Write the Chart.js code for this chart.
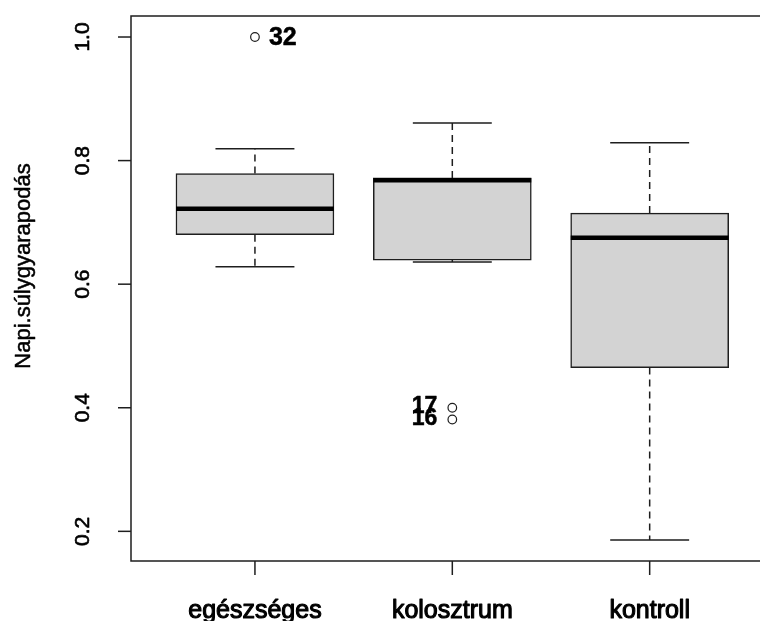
<!DOCTYPE html>
<html>
<head>
<meta charset="utf-8">
<script src="https://cdn.jsdelivr.net/npm/chart.js@4"></script>
<style>
  html, body { margin: 0; padding: 0; background: #fff; overflow: hidden; }
  canvas { display: block; }
</style>
</head>
<body>
<canvas id="c" width="760" height="621"></canvas>
<script>
// ---- data ----
const categories = ['egészséges', 'kolosztrum', 'kontroll'];
const whiskerLow  = [0.628, 0.636, 0.186];
const q1          = [0.680, 0.639, 0.465];
const median      = [0.722, 0.768, 0.675];
const q3          = [0.779, 0.772, 0.715];
const whiskerHigh = [0.819, 0.861, 0.829];
const outlierGroup  = [1, 2, 2];
const outlierValue  = [1.000, 0.400, 0.381];
const outlierLabel  = ['32', '17', '16'];
const yTicks = [0.2, 0.4, 0.6, 0.8, 1.0];
const yTitle = 'Napi.súlygyarapodás';

const FONT = "'Liberation Sans', Arial, Helvetica, sans-serif";
const INK = '#1e1e1e';

function heavyText(ctx, txt, x, y, w) {
  ctx.fillText(txt, x, y);
  ctx.save();
  ctx.lineWidth = w;
  ctx.lineJoin = 'round';
  ctx.strokeStyle = ctx.fillStyle;
  ctx.strokeText(txt, x, y);
  ctx.restore();
}

const boxPlugin = {
  id: 'boxplotR',
  afterDatasetsDraw(chart) {
    const ctx = chart.ctx;
    const xs = chart.scales.x, ys = chart.scales.y;
    const unit = xs.getPixelForValue(2) - xs.getPixelForValue(1);
    const capHalf = unit * 0.2;
    ctx.save();
    categories.forEach((c, i) => {
      const cx = xs.getPixelForValue(i + 1);
      const yHi = ys.getPixelForValue(whiskerHigh[i]);
      const yQ3 = ys.getPixelForValue(q3[i]);
      const yQ1 = ys.getPixelForValue(q1[i]);
      const yLo = ys.getPixelForValue(whiskerLow[i]);
      const yMed = ys.getPixelForValue(median[i]);
      // dashed whiskers
      ctx.strokeStyle = INK;
      ctx.lineWidth = 1.5;
      ctx.setLineDash([7, 5]);
      ctx.beginPath();
      ctx.moveTo(cx, yQ3); ctx.lineTo(cx, yHi);
      ctx.moveTo(cx, yQ1); ctx.lineTo(cx, yLo);
      ctx.stroke();
      ctx.setLineDash([]);
      // caps
      ctx.beginPath();
      ctx.moveTo(cx - capHalf, yHi); ctx.lineTo(cx + capHalf, yHi);
      ctx.moveTo(cx - capHalf, yLo); ctx.lineTo(cx + capHalf, yLo);
      ctx.stroke();
      // median
      const half = unit * 0.4;
      ctx.strokeStyle = '#000';
      ctx.lineWidth = 4.5;
      ctx.beginPath();
      ctx.moveTo(cx - half, yMed); ctx.lineTo(cx + half, yMed);
      ctx.stroke();
    });
    // outlier labels
    ctx.fillStyle = '#000';
    outlierValue.forEach((v, k) => {
      const px = xs.getPixelForValue(outlierGroup[k]);
      const py = ys.getPixelForValue(v);
      ctx.textBaseline = 'middle';
      if (outlierGroup[k] === 1) {
        ctx.font = 'bold 25px ' + FONT;
        ctx.textAlign = 'left';
        heavyText(ctx, outlierLabel[k], px + 14, py + 1, 0.5);
      } else {
        ctx.font = 'bold 23px ' + FONT;
        ctx.textAlign = 'right';
        heavyText(ctx, outlierLabel[k], px - 15, py - 1, 0.5);
      }
    });
    ctx.restore();
  },
  afterDraw(chart) {
    const ctx = chart.ctx;
    const a = chart.chartArea;
    const xs = chart.scales.x, ys = chart.scales.y;
    ctx.save();
    ctx.strokeStyle = INK;
    ctx.lineWidth = 1.5;
    // frame (right side falls outside the picture)
    ctx.beginPath();
    ctx.moveTo(chart.width + 2, a.top); ctx.lineTo(a.left, a.top);
    ctx.lineTo(a.left, a.bottom); ctx.lineTo(chart.width + 2, a.bottom);
    ctx.stroke();
    // y ticks + labels
    ctx.fillStyle = '#000';
    ctx.font = '21px ' + FONT;
    ctx.textAlign = 'center';
    ctx.textBaseline = 'alphabetic';
    yTicks.forEach(t => {
      const y = ys.getPixelForValue(t);
      ctx.beginPath();
      ctx.moveTo(a.left - 13, y); ctx.lineTo(a.left, y);
      ctx.stroke();
      ctx.save();
      ctx.translate(a.left - 42, y);
      ctx.rotate(-Math.PI / 2);
      heavyText(ctx, t.toFixed(1), 0, 0, 0.6);
      ctx.restore();
    });
    // x ticks + category labels
    ctx.font = '25px ' + FONT;
    categories.forEach((c, i) => {
      const x = xs.getPixelForValue(i + 1);
      ctx.beginPath();
      ctx.moveTo(x, a.bottom); ctx.lineTo(x, a.bottom + 14);
      ctx.stroke();
      ctx.textAlign = 'center';
      heavyText(ctx, c, x, 618, 1.1);
    });
    // y title
    ctx.font = '22px ' + FONT;
    ctx.save();
    ctx.translate(29.5, 266);
    ctx.rotate(-Math.PI / 2);
    ctx.textAlign = 'center';
    heavyText(ctx, yTitle, 0, 0, 0.5);
    ctx.restore();
    ctx.restore();
  }
};

new Chart(document.getElementById('c').getContext('2d'), {
  type: 'bar',
  data: {
    datasets: [
      {
        type: 'bar',
        data: categories.map((c, i) => ({ x: i + 1, y: [q1[i], q3[i]] })),
        backgroundColor: '#d3d3d3',
        borderColor: INK,
        borderWidth: 1.5,
        borderSkipped: false,
        barThickness: 158
      },
      {
        type: 'scatter',
        data: outlierValue.map((v, k) => ({ x: outlierGroup[k], y: v })),
        pointRadius: 4.3,
        pointBackgroundColor: '#fff',
        pointBorderColor: INK,
        pointBorderWidth: 1.2
      }
    ]
  },
  options: {
    responsive: false,
    animation: false,
    devicePixelRatio: 1,
    layout: { autoPadding: false, padding: { left: 131, top: 16, bottom: 60, right: 0 } },
    plugins: { legend: { display: false }, tooltip: { enabled: false } },
    scales: {
      x: { type: 'linear', min: 0.372, max: 3.559, display: false, offset: false },
      y: { type: 'linear', min: 0.152, max: 1.034, display: false }
    }
  },
  plugins: [boxPlugin]
});
</script>
</body>
</html>
